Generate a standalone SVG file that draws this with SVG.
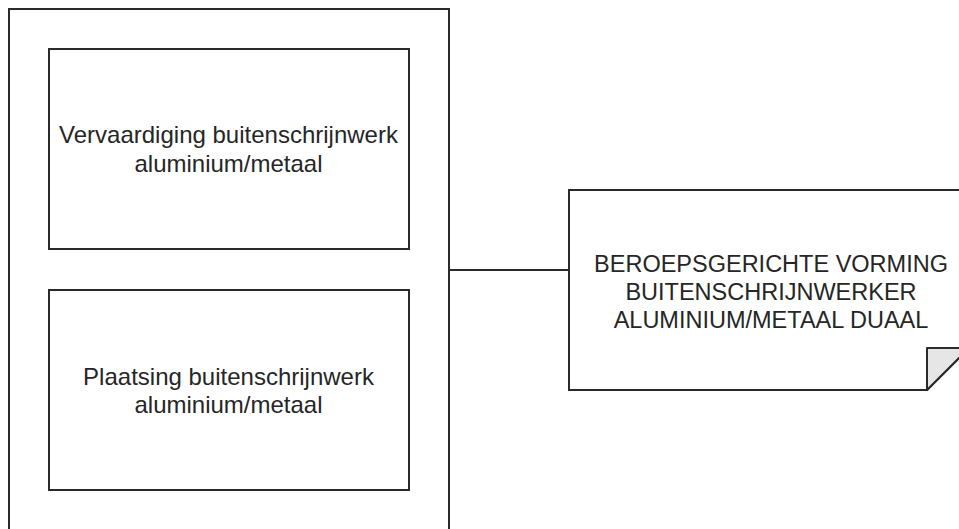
<svg xmlns="http://www.w3.org/2000/svg" width="959" height="529" viewBox="0 0 959 529">
<style>
.box{fill:#ffffff;stroke:#2a2a2a;stroke-width:2}
.lbl{font-family:"Liberation Sans",Arial,sans-serif;font-size:23.5px;fill:#262626;text-anchor:middle}
.lbl24{font-size:24px}
.conn{stroke:#2a2a2a;stroke-width:2;fill:none}
</style>
<rect width="959" height="529" fill="#ffffff"/>
<g id="container">
<rect class="box" x="9" y="9" width="440" height="540"/>
</g>
<g id="node-vervaardiging">
<rect class="box" x="49" y="49" width="360" height="200"/>
<text class="lbl lbl24" x="228.5" y="143">Vervaardiging buitenschrijnwerk</text>
<text class="lbl lbl24" x="228.5" y="171.5">aluminium/metaal</text>
</g>
<g id="node-plaatsing">
<rect class="box" x="49" y="290" width="360" height="200"/>
<text class="lbl lbl24" x="228.5" y="384.5">Plaatsing buitenschrijnwerk</text>
<text class="lbl lbl24" x="228.5" y="413">aluminium/metaal</text>
</g>
<g id="connectors">
<line class="conn" x1="449" y1="270" x2="569" y2="270"/>
</g>
<g id="node-document">
<path class="box" d="M569,190 H969 V348 L927,390 H569 Z"/>
<path d="M927,390 V348 H969 Z" fill="#e6e6e6" stroke="#2a2a2a" stroke-width="2" stroke-linejoin="round"/>
<text class="lbl" x="771" y="272">BEROEPSGERICHTE VORMING</text>
<text class="lbl" x="771" y="300">BUITENSCHRIJNWERKER</text>
<text class="lbl" x="771" y="328">ALUMINIUM/METAAL DUAAL</text>
</g>
</svg>
